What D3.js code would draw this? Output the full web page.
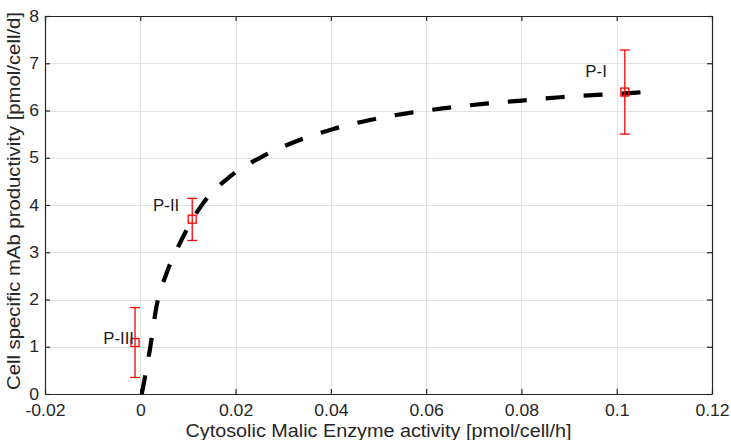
<!DOCTYPE html>
<html>
<head>
<meta charset="utf-8">
<script src="https://cdn.jsdelivr.net/npm/d3@7"></script>
<style>
  html, body { margin: 0; padding: 0; background: #fff; }
  svg { display: block; font-family: "Liberation Sans", Arial, Helvetica, sans-serif; }
</style>
</head>
<body>
<svg id="chart" width="731" height="440"></svg>
<script>
// Measured phenotypes (mean ± error)
const phenotypes = ["P-I", "P-II", "P-III"];
const meActivity = [0.1017, 0.0109, -0.0011];
const productivity = [6.39, 3.70, 1.09];
const errLow = [5.50, 3.25, 0.35];
const errHigh = [7.28, 4.14, 1.83];

// Saturation fit curve, sampled points
const fitX = [0.0003, 0.0020, 0.0034, 0.0055, 0.0083, 0.0132, 0.0188, 0.0255, 0.0325,
              0.0402, 0.0482, 0.0559, 0.0640, 0.0720, 0.0801, 0.0881, 0.0958, 0.1042, 0.1065];
const fitY = [0.00, 0.93, 1.85, 2.55, 3.19, 4.04, 4.60, 5.02, 5.34,
              5.60, 5.80, 5.94, 6.05, 6.14, 6.21, 6.28, 6.33, 6.38, 6.40];

// Axis ticks
const xTicks = [-0.02, 0, 0.02, 0.04, 0.06, 0.08, 0.1, 0.12];
const xTickLabels = ["-0.02", "0", "0.02", "0.04", "0.06", "0.08", "0.1", "0.12"];
const yTicks = [0, 1, 2, 3, 4, 5, 6, 7, 8];
const yTickLabels = ["0", "1", "2", "3", "4", "5", "6", "7", "8"];

const xTitle = "Cytosolic Malic Enzyme activity [pmol/cell/h]";
const yTitle = "Cell specific mAb productivity [pmol/cell/d]";

// Layout
const margin = { left: 45, right: 19, top: 16, bottom: 46 };
const W = 731, H = 440;
const svg = d3.select("#chart");
const x = d3.scaleLinear().domain([-0.02, 0.12]).range([margin.left, W - margin.right]);
const y = d3.scaleLinear().domain([0, 8]).range([H - margin.bottom, margin.top]);
const axisColor = "#262626";
const gridColor = "#e1e1e1";

// Widen a text element horizontally by the given factor
function widen(sel, factor) {
  sel.each(function () {
    const len = this.getComputedTextLength();
    d3.select(this).attr("textLength", len * factor).attr("lengthAdjust", "spacingAndGlyphs");
  });
}

// Grid
const grid = svg.append("g");
grid.selectAll("line.gx").data(xTicks).join("line")
  .attr("x1", d => Math.round(x(d)) + 0.5).attr("x2", d => Math.round(x(d)) + 0.5)
  .attr("y1", y(8)).attr("y2", y(0))
  .attr("stroke", gridColor).attr("stroke-width", 1);
grid.selectAll("line.gy").data(yTicks).join("line")
  .attr("y1", d => Math.round(y(d)) + 0.5).attr("y2", d => Math.round(y(d)) + 0.5)
  .attr("x1", x(-0.02)).attr("x2", x(0.12))
  .attr("stroke", gridColor).attr("stroke-width", 1);

// Axes (box with inward ticks)
const tickLen = 5;
const fmtX = (d, i) => xTickLabels[i];
const fmtY = (d, i) => yTickLabels[i];

const axB = svg.append("g").attr("transform", `translate(0,${y(0)})`)
  .call(d3.axisBottom(x).tickValues(xTicks).tickFormat(fmtX).tickSizeInner(-tickLen).tickSizeOuter(0).tickPadding(11));
const axT = svg.append("g").attr("transform", `translate(0,${y(8)})`)
  .call(d3.axisTop(x).tickValues(xTicks).tickFormat("").tickSizeInner(-tickLen).tickSizeOuter(0));
const axL = svg.append("g").attr("transform", `translate(${x(-0.02)},0)`)
  .call(d3.axisLeft(y).tickValues(yTicks).tickFormat(fmtY).tickSizeInner(-tickLen).tickSizeOuter(0).tickPadding(6));
const axR = svg.append("g").attr("transform", `translate(${x(0.12)},0)`)
  .call(d3.axisRight(y).tickValues(yTicks).tickFormat("").tickSizeInner(-tickLen).tickSizeOuter(0));

[axB, axT, axL, axR].forEach(g => {
  g.select(".domain").attr("stroke", axisColor).attr("stroke-width", 1.2);
  g.selectAll(".tick line").attr("stroke", axisColor).attr("stroke-width", 1.2);
  g.selectAll(".tick text").attr("fill", axisColor)
    .style("font-size", "16px").style("font-family", "'Liberation Sans', Arial, sans-serif");
});
widen(axB.selectAll(".tick text"), 1.1);
widen(axL.selectAll(".tick text"), 1.1);

// Fit curve (dashed)
const fitData = fitX.map((v, i) => [v, fitY[i]]);
svg.append("path")
  .datum(fitData)
  .attr("d", d3.line().x(d => x(d[0])).y(d => y(d[1])).curve(d3.curveMonotoneX))
  .attr("fill", "none").attr("stroke", "#000").attr("stroke-width", 4.2)
  .attr("stroke-dasharray", "19 19");

// Error bars and markers
const red = "#ff0000";
const pts = phenotypes.map((p, i) => ({ name: p, x: meActivity[i], y: productivity[i], lo: errLow[i], hi: errHigh[i] }));
const eb = svg.append("g").attr("stroke", red).attr("stroke-width", 1.3).attr("fill", "none");
pts.forEach(d => {
  const cx = x(d.x);
  eb.append("line").attr("x1", cx).attr("x2", cx).attr("y1", y(d.lo)).attr("y2", y(d.hi));
  eb.append("line").attr("x1", cx - 5).attr("x2", cx + 5).attr("y1", y(d.lo)).attr("y2", y(d.lo));
  eb.append("line").attr("x1", cx - 5).attr("x2", cx + 5).attr("y1", y(d.hi)).attr("y2", y(d.hi));
  eb.append("rect").attr("x", cx - 4).attr("y", y(d.y) - 4).attr("width", 8).attr("height", 8);
});

// Phenotype labels, right-aligned to the left of each point
const labelOffsets = [[-18, -21], [-13, -14], [-1, -4]];
const lbl = svg.append("g").selectAll("text").data(pts).join("text")
  .attr("x", (d, i) => x(d.x) + labelOffsets[i][0])
  .attr("y", (d, i) => y(d.y) + labelOffsets[i][1])
  .attr("text-anchor", "end").attr("dominant-baseline", "central")
  .attr("fill", "#1a1a1a").style("font-size", "16px")
  .text(d => d.name);
widen(lbl, 1.05);

// Axis titles
svg.append("text")
  .attr("x", (x(-0.02) + x(0.12)) / 2).attr("y", 437)
  .attr("text-anchor", "middle").attr("fill", axisColor)
  .attr("textLength", 386).attr("lengthAdjust", "spacingAndGlyphs")
  .style("font-size", "17.5px").text(xTitle);
svg.append("text")
  .attr("transform", `translate(20,${(y(0) + y(8)) / 2 - 4}) rotate(-90)`)
  .attr("text-anchor", "middle").attr("fill", axisColor)
  .attr("textLength", 378).attr("lengthAdjust", "spacingAndGlyphs")
  .style("font-size", "17.5px").text(yTitle);
</script>
</body>
</html>
